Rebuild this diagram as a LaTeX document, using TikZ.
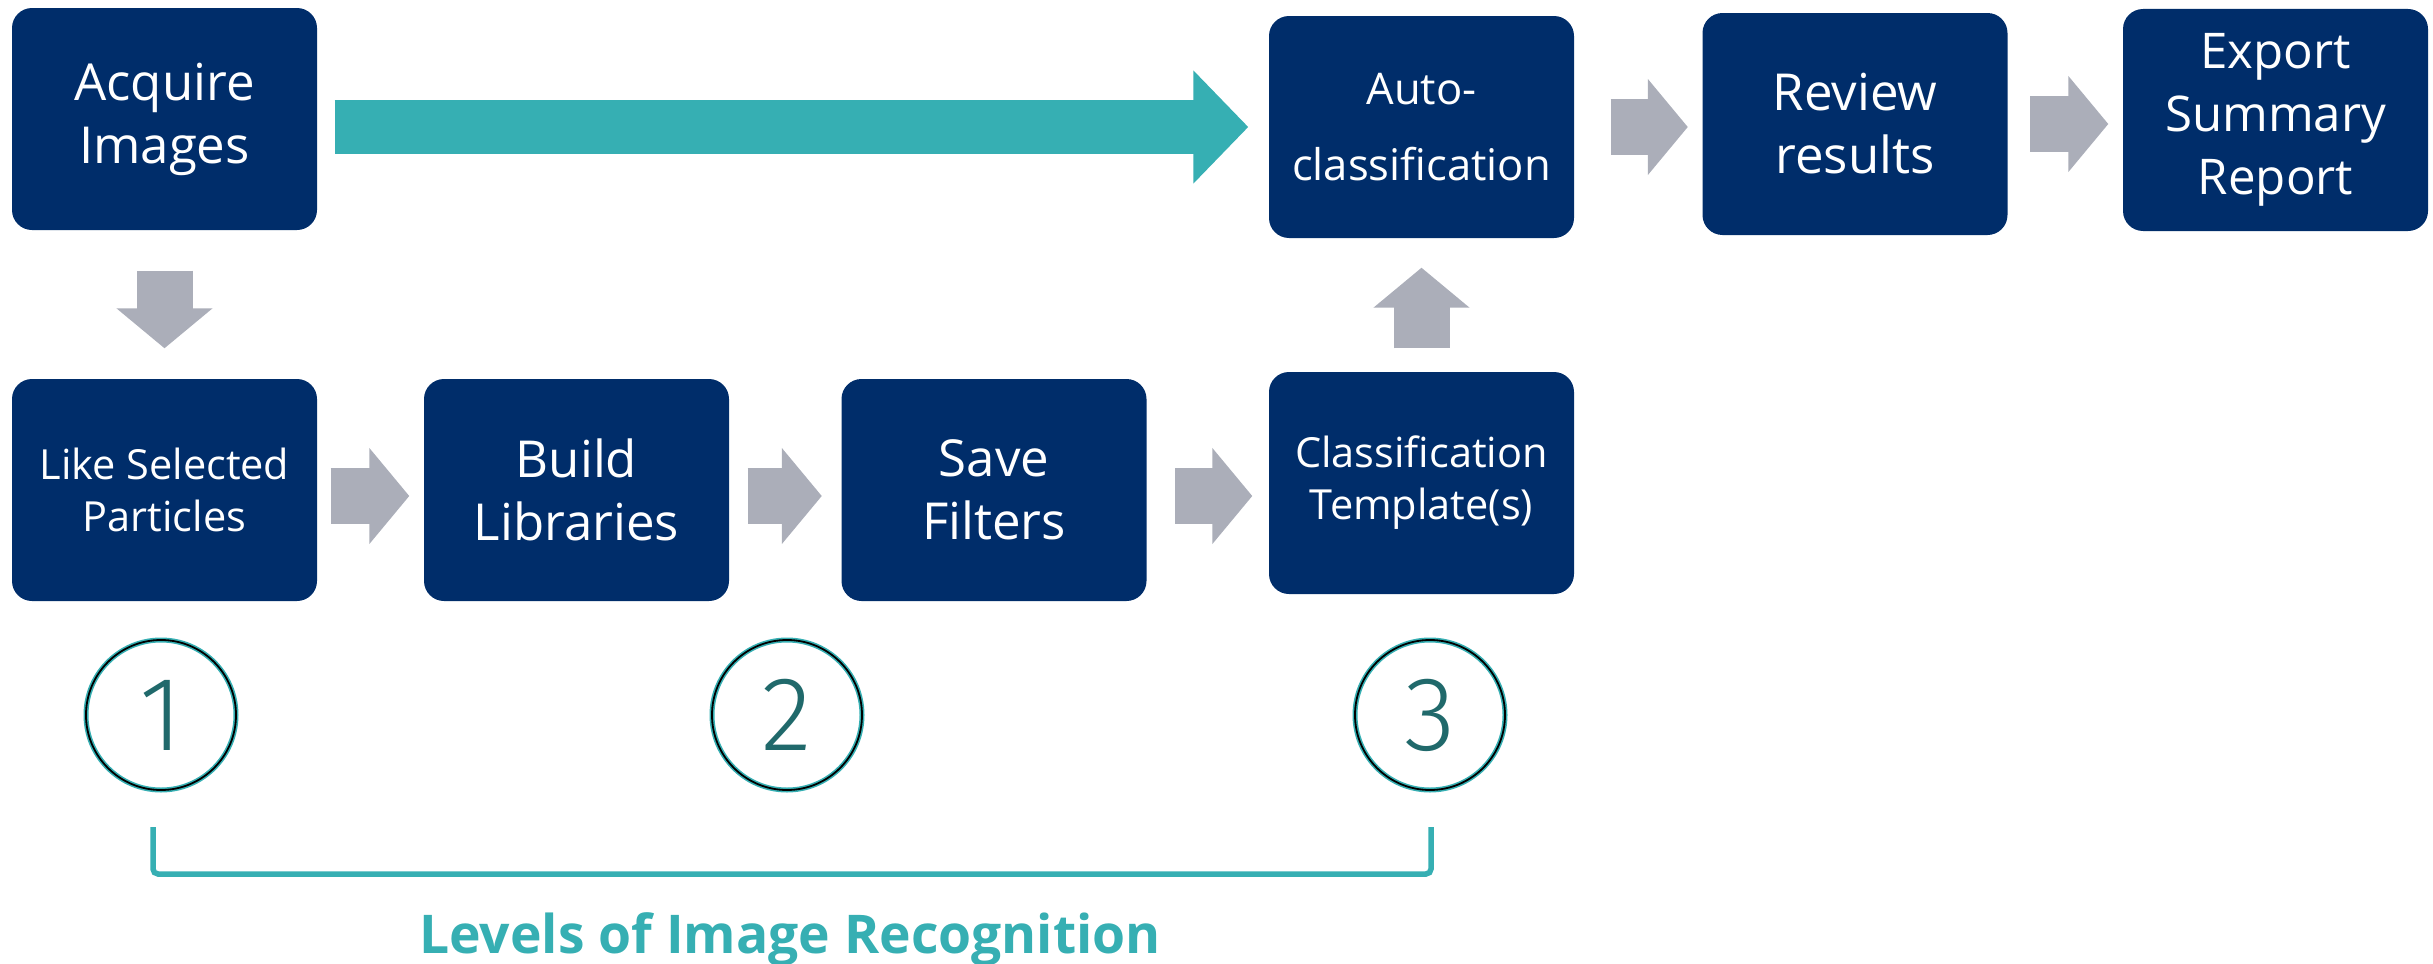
\documentclass[tikz,border=0pt]{standalone}
\usepackage{fontspec}
\setmainfont{Open Sans}
\newfontfamily\lightfont{Fira Sans Light}
\usepackage{xcolor}
\usepackage{tikz}
\usetikzlibrary{arrows.meta}
\usetikzlibrary{calc}
\definecolor{navy}{HTML}{002D6A}
\definecolor{teal}{HTML}{36AFB3}
\definecolor{arrowgray}{HTML}{ABAEB9}

\begin{document}
\begin{tikzpicture}[
    box/.style={rounded corners=0.2cm, fill=navy, text=white, minimum width=3.05cm, minimum height=2.22cm, align=center, font=\fontsize{14.5}{17.9}\selectfont},
    small/.style={font=\fontsize{11.8}{14.8}\selectfont},
    level/.style={circle, draw=teal, line width=0.05cm, minimum size=1.5cm, postaction={draw=black, line width=0.018cm}, text=teal!60!black, font=\lightfont\fontsize{30}{30}\selectfont},
    garrow/.style={draw=arrowgray, line width=0.56cm, -{Triangle[length=0.4cm, width=0.94cm]}},
    tarrow/.style={draw=teal, line width=0.54cm, -{Triangle[length=0.55cm, width=1.1cm]}}
]
        \useasboundingbox (0,0) rectangle (24.33,-9.64);
        \node[box] (acq) at (1.645,-1.19) {Acquire\\Images};
        \node[box, small] (like) at (1.645,-4.90) {Like Selected\\Particles};
        \node[box] (build) at (5.765,-4.90) {Build\\Libraries};
        \node[box] (save) at (9.94,-4.90) {Save\\Filters};
        \node[box, small] (templ) at (14.215,-4.83) {Classification\\Template(s)};
        \node[box, font=\fontsize{12.4}{21.6}\selectfont] (auto) at (14.215,-1.27) {Auto-\\classification};
        \node[box] (review) at (18.55,-1.24) {Review\\results};
        \node[box, font=\fontsize{14}{17.9}\selectfont] (export) at (22.755,-1.20) {Export\\Summary\\Report};
        \draw[tarrow, shorten <=0.17cm, shorten >=0.2cm] (acq.east |- auto.west) -- (auto.west);
        \draw[garrow, shorten <=0.4cm, shorten >=0.3cm] (acq.south) -- (like.north);
        \draw[garrow, shorten <=0.13cm, shorten >=0.14cm] ([yshift=-0.06cm]like.east) -- ([yshift=-0.06cm]build.west);
        \draw[garrow, shorten <=0.18cm, shorten >=0.19cm] ([yshift=-0.06cm]build.east) -- ([yshift=-0.06cm]save.west);
        \draw[garrow, shorten <=0.28cm, shorten >=0.16cm] ([yshift=-0.06cm]save.east) -- ([yshift=-0.06cm]save.east -| templ.west);
        \draw[garrow, shorten <=0.23cm, shorten >=0.29cm] (templ.north) -- (auto.south);
        \draw[garrow, shorten <=0.36cm, shorten >=0.14cm] (auto.east) -- (auto.east -| review.west);
        \draw[garrow, shorten <=0.22cm, shorten >=0.14cm] (review.east) -- (review.east -| export.west);
        \node[level] (one) at (1.61,-7.15) {1};
        \node[level] (two) at (7.87,-7.15) {2};
        \node[level] (three) at (14.30,-7.15) {3};
        \coordinate (bl) at (1.53,-8.27);
        \coordinate (br) at (14.31,-8.27);
        \draw[teal, line width=0.055cm, rounded corners=0.05cm] (bl) |- ($(br)+(0,-0.47)$) -- (br);
        \node[text=teal, font=\bfseries\fontsize{15.2}{15.2}\selectfont, anchor=base] (levels) at (7.90,-9.53) {Levels of Image Recognition};
    \end{tikzpicture}
\end{document}
